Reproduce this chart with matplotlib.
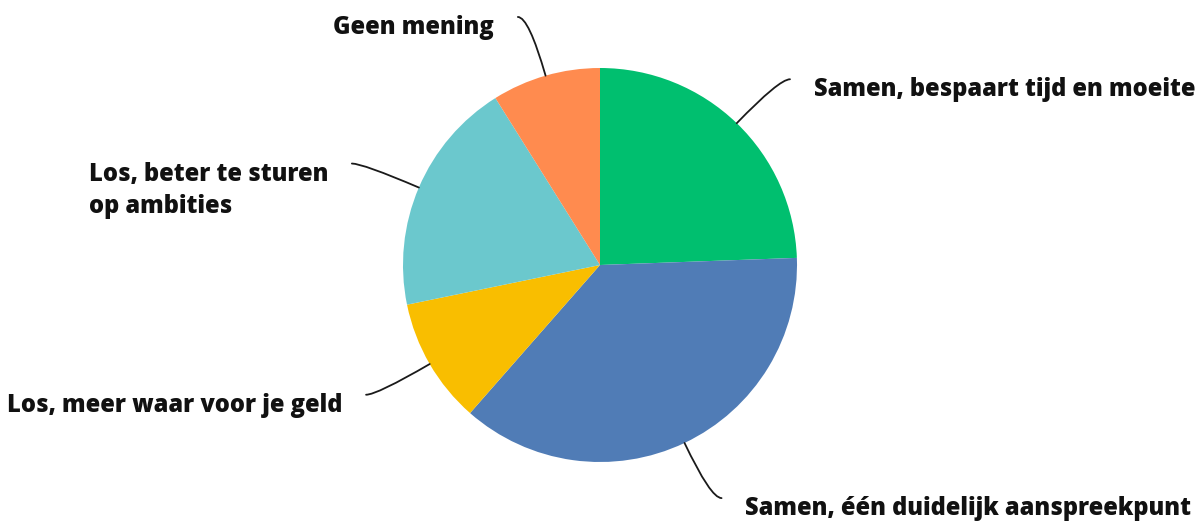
import numpy as np
import matplotlib
matplotlib.use("Agg")
import matplotlib.pyplot as plt
from matplotlib.path import Path
from matplotlib.patches import PathPatch

# Survey answers (share of respondents, %)
categories = [
    "Samen, bespaart tijd en moeite",
    "Samen, één duidelijk aanspreekpunt",
    "Los, meer waar voor je geld",
    "Los, beter te sturen\nop ambities",
    "Geen mening",
]
values = [24.4, 37.0, 10.3, 19.3, 8.9]
colors = ["#00BF6F", "#507CB6", "#F9BE00", "#6BC8CD", "#FF8B4F"]

W, H, DPI = 1198, 521, 100
fig = plt.figure(figsize=(W / DPI, H / DPI), dpi=DPI)
ax = fig.add_axes([0, 0, 1, 1])

# pie of radius 1 centred at the origin; 197 px per data unit
scale = 197.0
cx_px, cy_px = 600.0, 265.0

wedges, _ = ax.pie(values, colors=colors, startangle=90, counterclock=False,
                   radius=1.0, center=(0, 0), frame=True,
                   wedgeprops=dict(linewidth=0))
ax.set_xlim(-cx_px / scale, (W - cx_px) / scale)
ax.set_ylim(-(H - cy_px) / scale, cy_px / scale)
ax.set_aspect("auto")
ax.axis("off")

elbow_r = 1.31
hook = 0.055
gap = 0.12
text_raise = 2 / scale

for w, label in zip(wedges, categories):
    mid = np.deg2rad((w.theta1 + w.theta2) / 2.0)
    p0 = np.array([np.cos(mid), np.sin(mid)])
    p1 = elbow_r * p0
    side = 1 if p0[0] >= 0 else -1
    p2 = p1 + np.array([side * hook, 0])
    path = Path([p0, p1, p2], [Path.MOVETO, Path.CURVE3, Path.CURVE3])
    ax.add_patch(PathPatch(path, facecolor="none", edgecolor="#1a1a1a",
                           lw=1.3, capstyle="round"))
    ax.text(p2[0] + side * gap, p2[1] + text_raise, label,
            ha="left" if side > 0 else "right", va="top",
            multialignment="left", fontsize=17, fontweight=800,
            family=["Open Sans", "DejaVu Sans"], color="#111111",
            linespacing=1.38)

fig.savefig("out.png", dpi=DPI, facecolor="white")
